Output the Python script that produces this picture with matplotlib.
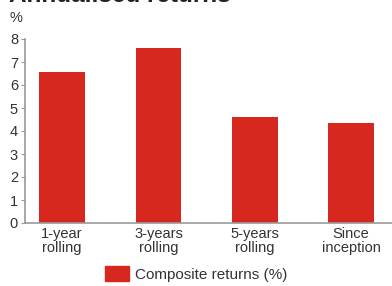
import matplotlib.pyplot as plt
from matplotlib.patches import Patch

plt.rcParams['font.family'] = ['Liberation Sans', 'DejaVu Sans']

categories = ['1-year\nrolling', '3-years\nrolling', '5-years\nrolling', 'Since\ninception']
returns = [6.55, 7.6, 4.6, 4.35]
yticks = [0, 1, 2, 3, 4, 5, 6, 7, 8]

bar_color = '#d7281f'
grey = '#9a9a9a'
txt = '#333333'

fig = plt.figure(figsize=(3.92, 2.86), dpi=100)
ax = fig.add_axes([25 / 392, 1 - 223 / 286, 367 / 392, 184 / 286])

x = range(len(categories))
ax.bar(x, returns, width=0.475, color=bar_color)
ax.set_xlim(-0.385, 3.425)
ax.set_ylim(0, 8)
ax.set_yticks(yticks)
ax.set_xticks(list(x))
ax.set_xticklabels(categories, fontsize=10.5, color=txt, linespacing=0.95)
ax.tick_params(axis='y', labelsize=10.5, colors=txt, length=3, width=0.8, color=grey, pad=2)
ax.tick_params(axis='x', length=0, pad=3)
for side in ['top', 'right']:
    ax.spines[side].set_visible(False)
for side in ['left', 'bottom']:
    ax.spines[side].set_color(grey)
    ax.spines[side].set_linewidth(1.2)

fig.text(9 / 392, 1 - 18 / 286, '%', fontsize=10.5, color=txt, va='center')
fig.text(9 / 392, 1 - 2 / 286, 'Annualised returns', fontsize=17.5, fontweight='bold',
         color='#222222', va='baseline')

fig.legend(handles=[Patch(color=bar_color, label='Composite returns (%)')],
           loc='center', bbox_to_anchor=(196 / 392, 1 - 274 / 286), frameon=False,
           fontsize=11, handlelength=1.6, handleheight=1.1, handletextpad=0.4,
           labelcolor=txt)

fig.savefig('out.png', dpi=100)
